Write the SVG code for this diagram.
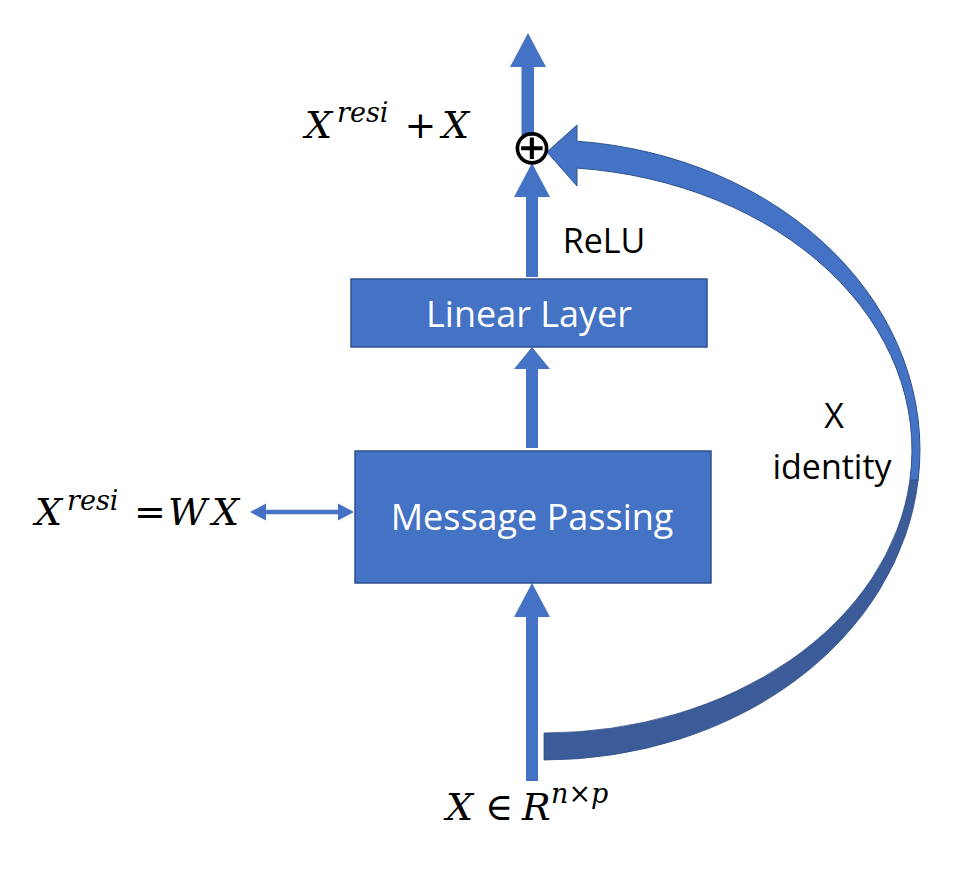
<svg xmlns="http://www.w3.org/2000/svg" width="970" height="882" viewBox="0 0 970 882">
<style>
.box{fill:#4472C4;stroke:#2F528F;stroke-width:1.5}
.boxtxt{font-family:"Open Sans","Noto Sans",sans-serif;font-size:36px;fill:#FFFFFF;text-anchor:middle}
.lbl{font-family:"Open Sans","Noto Sans",sans-serif;font-size:34px;fill:#000000;text-anchor:middle}
.math{font-family:"DejaVu Serif","Liberation Serif",serif;font-style:italic;font-size:38px;fill:#000000}
.sup{font-size:27px}
.up{font-style:normal}
.arr{fill:#4472C4}
.curveL{fill:#4472C4;stroke:#2F528F;stroke-width:1}
.curveD{fill:#3B5B99;stroke:#344F85;stroke-width:0.8}
</style>
<rect width="970" height="882" fill="#FFFFFF"/>

<g id="connectors">
  <!-- input arrow into Message Passing -->
  <polygon class="arr" points="526,781 538,781 538,617 550,617 532,583 514,617 526,617"/>
  <!-- Message Passing to Linear Layer -->
  <polygon class="arr" points="526,448 538,448 538,369 550,369 532,347 514,369 526,369"/>
  <!-- Linear Layer to sum (ReLU) -->
  <polygon class="arr" points="526,277 538,277 538,197 550,197 532,163 514,197 526,197"/>
  <!-- output arrow -->
  <polygon class="arr" points="521.5,136 534,136 534,67 546,67 528,33 510,67 521.5,67"/>
  <!-- double arrow to X^resi = WX -->
  <line x1="262" y1="512" x2="342" y2="512" stroke="#4472C4" stroke-width="4.5"/>
  <polygon class="arr" points="250,512 266,503.5 266,520.5"/>
  <polygon class="arr" points="354,512 338,503.5 338,520.5"/>
  <!-- curved identity arrow -->
  <path class="curveD" d="M 918.2,480 A 376 310 0 0 1 544,760 L 544,733 A 368 283 0 0 0 909.9,480 Z"/>
  <path class="curveL" d="M 577,141.2 A 376 310 0 0 1 918.2,480 L 909.9,480 A 368 283 0 0 0 577,168.1 L 577,186 L 547,152 L 577,125 Z"/>
</g>

<g id="node-linear-layer">
  <rect class="box" x="351" y="279" width="356" height="68"/>
  <text class="boxtxt" x="529" y="327">Linear Layer</text>
</g>

<g id="node-message-passing">
  <rect class="box" x="355" y="451" width="356" height="132"/>
  <text class="boxtxt" x="532" y="530">Message Passing</text>
</g>

<g id="node-sum">
  <text x="532" y="164" font-family="DejaVu Sans, sans-serif" font-size="50" text-anchor="middle" fill="#000000">⊕</text>
</g>

<g id="label-relu">
  <text class="lbl" x="604" y="253">ReLU</text>
</g>

<g id="label-identity">
  <text class="lbl" x="834" y="428">X</text>
  <text class="lbl" x="832" y="479">identity</text>
</g>

<g id="label-output">
  <text class="math"><tspan x="305" y="138">X</tspan><tspan class="sup" x="337" y="122">resi</tspan><tspan class="up" x="420.5" y="138" text-anchor="middle">+</tspan><tspan x="442" y="138">X</tspan></text>
</g>

<g id="label-resi">
  <text class="math"><tspan x="35" y="525">X</tspan><tspan class="sup" x="67" y="510">resi</tspan><tspan class="up" x="150" y="525" text-anchor="middle">=</tspan><tspan x="168" y="525">W</tspan><tspan x="212" y="525">X</tspan></text>
</g>

<g id="label-input">
  <text class="math"><tspan x="446" y="820">X</tspan><tspan class="up" x="499" y="820" text-anchor="middle">∈</tspan><tspan x="522" y="820">R</tspan><tspan class="sup" x="551" y="803">n×p</tspan></text>
</g>
</svg>
